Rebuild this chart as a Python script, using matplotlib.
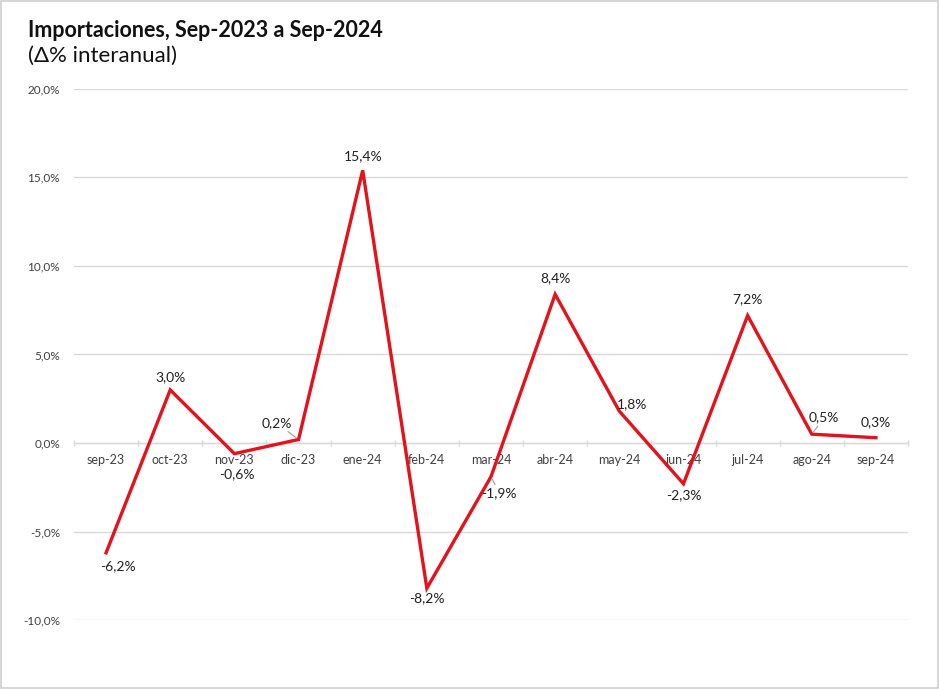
import matplotlib.pyplot as plt
import numpy as np
from matplotlib.patches import Rectangle

meses = ['sep-23', 'oct-23', 'nov-23', 'dic-23', 'ene-24', 'feb-24', 'mar-24',
         'abr-24', 'may-24', 'jun-24', 'jul-24', 'ago-24', 'sep-24']
var_interanual = [-6.2, 3.0, -0.6, 0.2, 15.4, -8.2, -1.9, 8.4, 1.8, -2.3, 7.2, 0.5, 0.3]
y_ticks = [-10, -5, 0, 5, 10, 15, 20]

# label offsets in points (dx, dy) and whether a leader line is drawn
offsets = [(8.5, -9.5), (0, 9.5), (1.5, -14.5), (-16, 12), (0, 10), (0, -7), (6, -12),
           (0, 11.5), (9, 5), (0, -8), (0, 11.5), (9, 12), (0, 11)]
leader = [False, False, False, True, False, False, True,
          False, False, False, False, True, False]

plt.rcParams['font.family'] = ['Lato', 'DejaVu Sans']

fig = plt.figure(figsize=(9.39, 6.89), dpi=100)
fig.patches.append(Rectangle((0.001, 0.001), 0.998, 0.998, transform=fig.transFigure,
                             fill=False, edgecolor='#d0d0d0', linewidth=1.2))
ax = fig.add_axes([0.0788, 0.100, 0.8882, 0.771])

x = np.arange(len(meses))
ax.plot(x, var_interanual, color='#e3121b', linewidth=2.4, zorder=3,
        solid_joinstyle='miter')

ax.set_xlim(-0.5, len(meses) - 0.5)
ax.set_ylim(-10, 20)
ax.set_yticks(y_ticks)
ax.set_yticklabels([f'{v:.1f}%'.replace('.', ',') for v in y_ticks],
                   fontsize=8.5, color='#404040')
ax.yaxis.grid(True, color='#d9d9d9', linewidth=1)
ax.set_axisbelow(True)
ax.tick_params(axis='y', length=0, pad=10)

for s in ['top', 'right', 'left']:
    ax.spines[s].set_visible(False)
ax.spines['bottom'].set_position(('data', 0))
ax.spines['bottom'].set_color('#d9d9d9')
ax.spines['bottom'].set_linewidth(1)

ax.set_xticks(x)
ax.set_xticklabels(meses, fontsize=9, color='#404040')
ax.tick_params(axis='x', which='major', length=0, pad=8)
ax.set_xticks(np.arange(-0.5, len(meses)), minor=True)
ax.tick_params(axis='x', which='minor', length=5, direction='inout',
               color='#d9d9d9', width=1)

for xi, v, (dx, dy), ld in zip(x, var_interanual, offsets, leader):
    txt = f'{v:.1f}%'.replace('.', ',')
    if ld:
        ax.annotate(txt, xy=(xi, v), xytext=(dx, dy), textcoords='offset points',
                    ha='center', va='center', fontsize=10, color='#202020',
                    arrowprops=dict(arrowstyle='-', color='#a6a6a6', lw=0.9,
                                    shrinkA=0, shrinkB=2))
    else:
        ax.annotate(txt, xy=(xi, v), xytext=(dx, dy), textcoords='offset points',
                    ha='center', va='center', fontsize=10, color='#202020')

fig.text(0.030, 0.956, 'Importaciones, Sep-2023 a Sep-2024', fontsize=15.5,
         fontweight='bold', ha='left', va='center', color='#111111')
fig.text(0.030, 0.919, '(Δ% interanual)', fontsize=16, ha='left', va='center',
         color='#111111')

fig.savefig('out.png', dpi=100)
